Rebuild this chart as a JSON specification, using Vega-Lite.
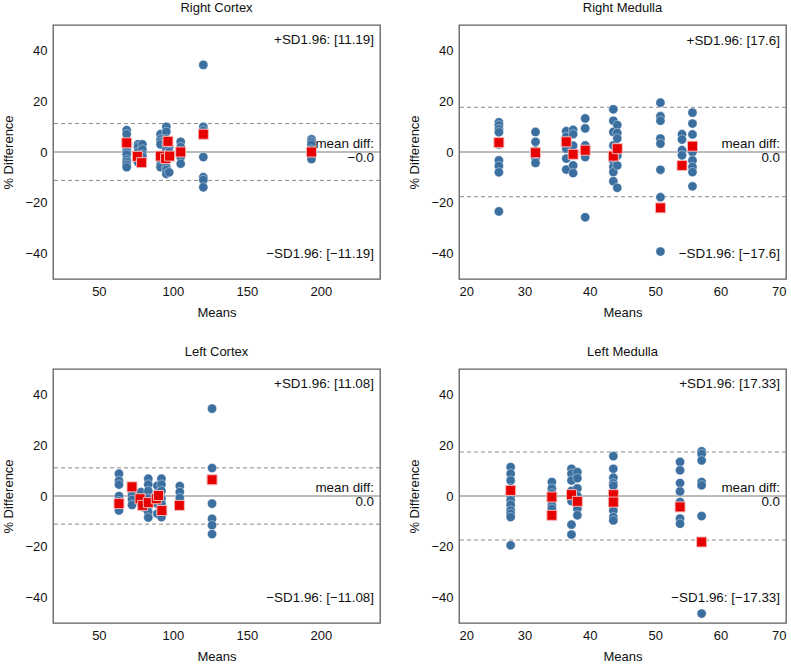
{
  "$schema": "https://vega.github.io/schema/vega-lite/v6.json",
  "padding": {"left": 2, "top": 1, "right": 5, "bottom": 5},
  "background": "white",
  "datasets": {
    "one": [{"k": 1}],
    "rc": [
      {"means": 68.8, "diff": 8.6, "kind": "blue"}, {"means": 68.8, "diff": 7, "kind": "blue"}, {"means": 68.8, "diff": 3, "kind": "blue"}, {"means": 68.8, "diff": 1, "kind": "blue"}, {"means": 68.8, "diff": 0, "kind": "blue"}, {"means": 68.8, "diff": -1, "kind": "blue"}, {"means": 68.8, "diff": -3, "kind": "blue"}, {"means": 68.8, "diff": -4, "kind": "blue"}, {"means": 68.8, "diff": -5, "kind": "blue"}, {"means": 68.8, "diff": -6, "kind": "blue"},
      {"means": 76.5, "diff": 3, "kind": "blue"}, {"means": 76.5, "diff": 2, "kind": "blue"}, {"means": 76.5, "diff": 0, "kind": "blue"}, {"means": 76.5, "diff": -2, "kind": "blue"}, {"means": 76.5, "diff": -3, "kind": "blue"}, {"means": 76.5, "diff": -4, "kind": "blue"},
      {"means": 79.4, "diff": 3, "kind": "blue"}, {"means": 79.4, "diff": 1, "kind": "blue"}, {"means": 79.4, "diff": -1, "kind": "blue"}, {"means": 79.4, "diff": -2, "kind": "blue"},
      {"means": 91.7, "diff": 7, "kind": "blue"}, {"means": 91.7, "diff": 5, "kind": "blue"}, {"means": 91.7, "diff": 4, "kind": "blue"}, {"means": 91.7, "diff": 3, "kind": "blue"}, {"means": 91.7, "diff": -3, "kind": "blue"}, {"means": 91.7, "diff": -5, "kind": "blue"}, {"means": 91.7, "diff": -6, "kind": "blue"},
      {"means": 95.6, "diff": 9.9, "kind": "blue"}, {"means": 95.6, "diff": 8, "kind": "blue"}, {"means": 95.6, "diff": 5, "kind": "blue"}, {"means": 95.6, "diff": 3, "kind": "blue"}, {"means": 95.6, "diff": 1, "kind": "blue"}, {"means": 95.6, "diff": -1, "kind": "blue"}, {"means": 95.6, "diff": -3, "kind": "blue"}, {"means": 95.6, "diff": -6, "kind": "blue"}, {"means": 95.6, "diff": -7, "kind": "blue"}, {"means": 95.6, "diff": -8.6, "kind": "blue"},
      {"means": 97.5, "diff": 2, "kind": "blue"}, {"means": 97.5, "diff": 0, "kind": "blue"}, {"means": 97.5, "diff": -2, "kind": "blue"}, {"means": 97.5, "diff": -8, "kind": "blue"},
      {"means": 105.3, "diff": 4, "kind": "blue"}, {"means": 105.3, "diff": 2, "kind": "blue"}, {"means": 105.3, "diff": 0, "kind": "blue"}, {"means": 105.3, "diff": -2, "kind": "blue"}, {"means": 105.3, "diff": -4.6, "kind": "blue"},
      {"means": 120.6, "diff": 34.3, "kind": "blue"}, {"means": 120.6, "diff": 9.9, "kind": "blue"}, {"means": 120.6, "diff": 8.5, "kind": "blue"}, {"means": 120.6, "diff": -2, "kind": "blue"}, {"means": 120.6, "diff": -9.9, "kind": "blue"}, {"means": 120.6, "diff": -11, "kind": "blue"}, {"means": 120.6, "diff": -13.9, "kind": "blue"},
      {"means": 193.7, "diff": 5, "kind": "blue"}, {"means": 193.7, "diff": 4, "kind": "blue"}, {"means": 193.7, "diff": 3, "kind": "blue"}, {"means": 193.7, "diff": 1, "kind": "blue"}, {"means": 193.7, "diff": -1, "kind": "blue"}, {"means": 193.7, "diff": -2.8, "kind": "blue"},
      {"means": 68.8, "diff": 3.6, "kind": "red"}, {"means": 76, "diff": -1.7, "kind": "red"}, {"means": 78.9, "diff": -4.2, "kind": "red"}, {"means": 91.7, "diff": -1.6, "kind": "red"}, {"means": 95.1, "diff": -2.6, "kind": "red"}, {"means": 96.7, "diff": 4.2, "kind": "red"}, {"means": 97.8, "diff": -1.6, "kind": "red"}, {"means": 105.3, "diff": 0, "kind": "red"}, {"means": 120.6, "diff": 7, "kind": "red"}, {"means": 193.7, "diff": 0, "kind": "red"}
    ],
    "rm": [
      {"means": 26.1, "diff": 11.7, "kind": "blue"}, {"means": 26.1, "diff": 10.5, "kind": "blue"}, {"means": 26.1, "diff": 9, "kind": "blue"}, {"means": 26.1, "diff": 7.8, "kind": "blue"}, {"means": 26.1, "diff": 3, "kind": "blue"}, {"means": 26.1, "diff": -3.3, "kind": "blue"}, {"means": 26.1, "diff": -5.5, "kind": "blue"}, {"means": 26.1, "diff": -8, "kind": "blue"}, {"means": 26.1, "diff": -23.4, "kind": "blue"},
      {"means": 31.7, "diff": 7.9, "kind": "blue"}, {"means": 31.7, "diff": 4, "kind": "blue"}, {"means": 31.7, "diff": 0.5, "kind": "blue"}, {"means": 31.7, "diff": -2.5, "kind": "blue"}, {"means": 31.7, "diff": -4.3, "kind": "blue"},
      {"means": 36.4, "diff": 8.2, "kind": "blue"}, {"means": 36.4, "diff": 6, "kind": "blue"}, {"means": 36.4, "diff": 1.3, "kind": "blue"}, {"means": 36.4, "diff": -2.6, "kind": "blue"}, {"means": 36.4, "diff": -6.9, "kind": "blue"},
      {"means": 37.45, "diff": 8.7, "kind": "blue"}, {"means": 37.45, "diff": 7, "kind": "blue"}, {"means": 37.45, "diff": 2.5, "kind": "blue"}, {"means": 37.45, "diff": -1, "kind": "blue"}, {"means": 37.45, "diff": -5.3, "kind": "blue"}, {"means": 37.45, "diff": -8.3, "kind": "blue"},
      {"means": 39.3, "diff": 13.2, "kind": "blue"}, {"means": 39.3, "diff": 9.3, "kind": "blue"}, {"means": 39.3, "diff": 2.6, "kind": "blue"}, {"means": 39.3, "diff": -2, "kind": "blue"}, {"means": 39.3, "diff": -25.7, "kind": "blue"},
      {"means": 43.6, "diff": 16.8, "kind": "blue"}, {"means": 43.6, "diff": 12.3, "kind": "blue"}, {"means": 43.6, "diff": 7.9, "kind": "blue"}, {"means": 43.6, "diff": 2.6, "kind": "blue"}, {"means": 43.6, "diff": -3.5, "kind": "blue"}, {"means": 43.6, "diff": -5.9, "kind": "blue"}, {"means": 43.6, "diff": -7.9, "kind": "blue"}, {"means": 43.6, "diff": -11.5, "kind": "blue"},
      {"means": 44.2, "diff": 10.6, "kind": "blue"}, {"means": 44.2, "diff": 7.5, "kind": "blue"}, {"means": 44.2, "diff": 5.3, "kind": "blue"}, {"means": 44.2, "diff": -1.5, "kind": "blue"}, {"means": 44.2, "diff": -5.3, "kind": "blue"}, {"means": 44.2, "diff": -14.1, "kind": "blue"},
      {"means": 50.8, "diff": 19.4, "kind": "blue"}, {"means": 50.8, "diff": 14.1, "kind": "blue"}, {"means": 50.8, "diff": 12.3, "kind": "blue"}, {"means": 50.8, "diff": 5.3, "kind": "blue"}, {"means": 50.8, "diff": 3.3, "kind": "blue"}, {"means": 50.8, "diff": -7, "kind": "blue"}, {"means": 50.8, "diff": -17.8, "kind": "blue"}, {"means": 50.8, "diff": -39.2, "kind": "blue"},
      {"means": 54.1, "diff": 7, "kind": "blue"}, {"means": 54.1, "diff": 4.9, "kind": "blue"}, {"means": 54.1, "diff": 0.7, "kind": "blue"}, {"means": 54.1, "diff": -1.3, "kind": "blue"},
      {"means": 55.7, "diff": 15.5, "kind": "blue"}, {"means": 55.7, "diff": 11.2, "kind": "blue"}, {"means": 55.7, "diff": 6.9, "kind": "blue"}, {"means": 55.7, "diff": 0, "kind": "blue"}, {"means": 55.7, "diff": -3.3, "kind": "blue"}, {"means": 55.7, "diff": -5.9, "kind": "blue"}, {"means": 55.7, "diff": -7.9, "kind": "blue"}, {"means": 55.7, "diff": -13.5, "kind": "blue"},
      {"means": 26.1, "diff": 3.7, "kind": "red"}, {"means": 31.7, "diff": -0.3, "kind": "red"}, {"means": 36.4, "diff": 4, "kind": "red"}, {"means": 37.45, "diff": -0.9, "kind": "red"}, {"means": 39.3, "diff": 0.7, "kind": "red"}, {"means": 43.6, "diff": -1.6, "kind": "red"}, {"means": 44.2, "diff": 1.3, "kind": "red"}, {"means": 50.8, "diff": -22, "kind": "red"}, {"means": 54.1, "diff": -5.3, "kind": "red"}, {"means": 55.7, "diff": 2.3, "kind": "red"}
    ],
    "lc": [
      {"means": 63.6, "diff": 8.8, "kind": "blue"}, {"means": 63.6, "diff": 6, "kind": "blue"}, {"means": 63.6, "diff": 4.5, "kind": "blue"}, {"means": 63.6, "diff": 0, "kind": "blue"}, {"means": 63.6, "diff": -2, "kind": "blue"}, {"means": 63.6, "diff": -5.7, "kind": "blue"},
      {"means": 72.4, "diff": 1.6, "kind": "blue"}, {"means": 72.4, "diff": 0, "kind": "blue"}, {"means": 72.4, "diff": -1.5, "kind": "blue"}, {"means": 72.4, "diff": -3.5, "kind": "blue"},
      {"means": 78.5, "diff": 1.5, "kind": "blue"}, {"means": 78.5, "diff": -1, "kind": "blue"}, {"means": 78.5, "diff": -3, "kind": "blue"}, {"means": 80.5, "diff": -4.5, "kind": "blue"},
      {"means": 83.4, "diff": 6.8, "kind": "blue"}, {"means": 83.4, "diff": 4.5, "kind": "blue"}, {"means": 83.4, "diff": 2, "kind": "blue"}, {"means": 83.4, "diff": -1, "kind": "blue"}, {"means": 83.4, "diff": -4, "kind": "blue"}, {"means": 83.4, "diff": -6.3, "kind": "blue"}, {"means": 83.4, "diff": -8.5, "kind": "blue"},
      {"means": 89.5, "diff": 4, "kind": "blue"}, {"means": 89.5, "diff": 1, "kind": "blue"}, {"means": 89.5, "diff": -3, "kind": "blue"}, {"means": 89.5, "diff": -7, "kind": "blue"},
      {"means": 92.3, "diff": 6.8, "kind": "blue"}, {"means": 92.3, "diff": 4.5, "kind": "blue"}, {"means": 92.3, "diff": 2, "kind": "blue"}, {"means": 92.3, "diff": -1, "kind": "blue"}, {"means": 92.3, "diff": -3, "kind": "blue"}, {"means": 92.3, "diff": -6.3, "kind": "blue"}, {"means": 92.3, "diff": -8.3, "kind": "blue"},
      {"means": 104.7, "diff": 3.9, "kind": "blue"}, {"means": 104.7, "diff": 1.6, "kind": "blue"}, {"means": 104.7, "diff": -0.8, "kind": "blue"},
      {"means": 126.5, "diff": 34.4, "kind": "blue"}, {"means": 126.5, "diff": 11, "kind": "blue"}, {"means": 126.5, "diff": -3, "kind": "blue"}, {"means": 126.5, "diff": -9, "kind": "blue"}, {"means": 126.5, "diff": -11.5, "kind": "blue"}, {"means": 126.5, "diff": -15, "kind": "blue"},
      {"means": 63.6, "diff": -3, "kind": "red"}, {"means": 72.4, "diff": 3.6, "kind": "red"}, {"means": 77.8, "diff": -1.1, "kind": "red"}, {"means": 79.6, "diff": -3.7, "kind": "red"}, {"means": 83.4, "diff": -2.6, "kind": "red"}, {"means": 88.8, "diff": -1.1, "kind": "red"}, {"means": 90.3, "diff": 0.2, "kind": "red"}, {"means": 92.6, "diff": -5.7, "kind": "red"}, {"means": 104.4, "diff": -3.7, "kind": "red"}, {"means": 126.5, "diff": 6.4, "kind": "red"}
    ],
    "lm": [
      {"means": 27.9, "diff": 11.4, "kind": "blue"}, {"means": 27.9, "diff": 8.8, "kind": "blue"}, {"means": 27.9, "diff": 6.1, "kind": "blue"}, {"means": 27.9, "diff": 3, "kind": "blue"}, {"means": 27.9, "diff": 0, "kind": "blue"}, {"means": 27.9, "diff": -1.7, "kind": "blue"}, {"means": 27.9, "diff": -3.5, "kind": "blue"}, {"means": 27.9, "diff": -5.7, "kind": "blue"}, {"means": 27.9, "diff": -7, "kind": "blue"}, {"means": 27.9, "diff": -8.3, "kind": "blue"}, {"means": 27.9, "diff": -19.4, "kind": "blue"},
      {"means": 34.2, "diff": 5.5, "kind": "blue"}, {"means": 34.2, "diff": 2.9, "kind": "blue"}, {"means": 34.2, "diff": 1, "kind": "blue"}, {"means": 34.2, "diff": -2, "kind": "blue"}, {"means": 34.2, "diff": -3.7, "kind": "blue"}, {"means": 34.2, "diff": -5, "kind": "blue"},
      {"means": 37.2, "diff": 10.7, "kind": "blue"}, {"means": 37.2, "diff": 8.8, "kind": "blue"}, {"means": 37.2, "diff": 6.1, "kind": "blue"}, {"means": 37.2, "diff": 2, "kind": "blue"}, {"means": 37.2, "diff": -2, "kind": "blue"}, {"means": 37.2, "diff": -11.3, "kind": "blue"}, {"means": 37.2, "diff": -15.2, "kind": "blue"},
      {"means": 38.1, "diff": 9.4, "kind": "blue"}, {"means": 38.1, "diff": 7, "kind": "blue"}, {"means": 38.1, "diff": 3, "kind": "blue"}, {"means": 38.1, "diff": 0, "kind": "blue"}, {"means": 38.1, "diff": -5, "kind": "blue"}, {"means": 38.1, "diff": -7.6, "kind": "blue"},
      {"means": 43.6, "diff": 15.7, "kind": "blue"}, {"means": 43.6, "diff": 10.7, "kind": "blue"}, {"means": 43.6, "diff": 7.2, "kind": "blue"}, {"means": 43.6, "diff": 5, "kind": "blue"}, {"means": 43.6, "diff": 4, "kind": "blue"}, {"means": 43.6, "diff": -5.7, "kind": "blue"}, {"means": 43.6, "diff": -8.3, "kind": "blue"}, {"means": 43.6, "diff": -9.6, "kind": "blue"},
      {"means": 53.8, "diff": 13.4, "kind": "blue"}, {"means": 53.8, "diff": 10.1, "kind": "blue"}, {"means": 53.8, "diff": 5.1, "kind": "blue"}, {"means": 53.8, "diff": 1.8, "kind": "blue"}, {"means": 53.8, "diff": -2.4, "kind": "blue"}, {"means": 53.8, "diff": -8.9, "kind": "blue"}, {"means": 53.8, "diff": -10.9, "kind": "blue"},
      {"means": 57.1, "diff": 17.6, "kind": "blue"}, {"means": 57.1, "diff": 16.5, "kind": "blue"}, {"means": 57.1, "diff": 14, "kind": "blue"}, {"means": 57.1, "diff": 5.5, "kind": "blue"}, {"means": 57.1, "diff": 4.2, "kind": "blue"}, {"means": 57.1, "diff": -7.9, "kind": "blue"}, {"means": 57.1, "diff": -46.3, "kind": "blue"},
      {"means": 27.9, "diff": 2.2, "kind": "red"}, {"means": 34.2, "diff": -0.4, "kind": "red"}, {"means": 34.2, "diff": -7.6, "kind": "red"}, {"means": 37.2, "diff": 0.5, "kind": "red"}, {"means": 38.1, "diff": -2.1, "kind": "red"}, {"means": 43.6, "diff": 0.5, "kind": "red"}, {"means": 43.6, "diff": -2.4, "kind": "red"}, {"means": 53.8, "diff": -4.3, "kind": "red"}, {"means": 57.1, "diff": -18.1, "kind": "red"}
    ]
  },
  "vconcat": [
    {
      "hconcat": [
        {
          "title": "Right Cortex",
          "width": 327, "height": 254,
          "encoding": {
            "x": {"type": "quantitative", "scale": {"domain": [19, 240], "nice": false, "zero": false}, "axis": {"values": [50, 100, 150, 200], "title": "Means"}},
            "y": {"type": "quantitative", "scale": {"domain": [-50, 50], "nice": false}, "axis": {"values": [-40, -20, 0, 20, 40], "title": "% Difference"}}
          },
          "layer": [
            {"data": {"name": "one"}, "mark": {"type": "rule", "color": "#7a7a7a", "strokeWidth": 1.1}, "encoding": {"y": {"datum": 0, "type": "quantitative"}}},
            {"data": {"name": "one"}, "mark": {"type": "rule", "color": "#8a8a8a", "strokeWidth": 1, "strokeDash": [4, 3]}, "encoding": {"y": {"datum": 11.19, "type": "quantitative"}}},
            {"data": {"name": "one"}, "mark": {"type": "rule", "color": "#8a8a8a", "strokeWidth": 1, "strokeDash": [4, 3]}, "encoding": {"y": {"datum": -11.19, "type": "quantitative"}}},
            {"data": {"name": "rc"}, "transform": [{"filter": "datum.kind == 'blue'"}], "mark": {"type": "circle", "size": 85, "color": "#3b6fa0", "opacity": 1, "stroke": "#ffffff", "strokeWidth": 0.4}, "encoding": {"x": {"field": "means", "type": "quantitative"}, "y": {"field": "diff", "type": "quantitative"}}},
            {"data": {"name": "rc"}, "transform": [{"filter": "datum.kind == 'red'"}], "mark": {"type": "square", "size": 100, "color": "#e60000", "opacity": 1, "stroke": "#f4b8b8", "strokeWidth": 1}, "encoding": {"x": {"field": "means", "type": "quantitative"}, "y": {"field": "diff", "type": "quantitative"}}},
            {"data": {"name": "one"}, "mark": {"type": "text", "text": "+SD1.96: [11.19]", "align": "right", "baseline": "middle", "dx": -6, "fontSize": 13.4, "fill": "#111111"}, "encoding": {"x": {"datum": 240, "type": "quantitative"}, "y": {"datum": 44, "type": "quantitative"}}},
            {"data": {"name": "one"}, "mark": {"type": "text", "text": "−SD1.96: [−11.19]", "align": "right", "baseline": "middle", "dx": -6, "fontSize": 13.4, "fill": "#111111"}, "encoding": {"x": {"datum": 240, "type": "quantitative"}, "y": {"datum": -40.2, "type": "quantitative"}}},
            {"data": {"name": "one"}, "mark": {"type": "text", "text": "mean diff:", "align": "right", "baseline": "middle", "dx": -6, "dy": -8, "fontSize": 13.4, "fill": "#111111"}, "encoding": {"x": {"datum": 240, "type": "quantitative"}, "y": {"datum": 0, "type": "quantitative"}}},
            {"data": {"name": "one"}, "mark": {"type": "text", "text": "−0.0", "align": "right", "baseline": "middle", "dx": -6, "dy": 6, "fontSize": 13.4, "fill": "#111111"}, "encoding": {"x": {"datum": 240, "type": "quantitative"}, "y": {"datum": 0, "type": "quantitative"}}}
          ]
        },
        {
          "title": "Right Medulla",
          "width": 327, "height": 254,
          "encoding": {
            "x": {"type": "quantitative", "scale": {"domain": [20, 70], "nice": false, "zero": false}, "axis": {"values": [20, 30, 40, 50, 60, 70], "title": "Means"}},
            "y": {"type": "quantitative", "scale": {"domain": [-50, 50], "nice": false}, "axis": {"values": [-40, -20, 0, 20, 40], "title": "% Difference"}}
          },
          "layer": [
            {"data": {"name": "one"}, "mark": {"type": "rule", "color": "#7a7a7a", "strokeWidth": 1.1}, "encoding": {"y": {"datum": 0, "type": "quantitative"}}},
            {"data": {"name": "one"}, "mark": {"type": "rule", "color": "#8a8a8a", "strokeWidth": 1, "strokeDash": [4, 3]}, "encoding": {"y": {"datum": 17.6, "type": "quantitative"}}},
            {"data": {"name": "one"}, "mark": {"type": "rule", "color": "#8a8a8a", "strokeWidth": 1, "strokeDash": [4, 3]}, "encoding": {"y": {"datum": -17.6, "type": "quantitative"}}},
            {"data": {"name": "rm"}, "transform": [{"filter": "datum.kind == 'blue'"}], "mark": {"type": "circle", "size": 85, "color": "#3b6fa0", "opacity": 1, "stroke": "#ffffff", "strokeWidth": 0.4}, "encoding": {"x": {"field": "means", "type": "quantitative"}, "y": {"field": "diff", "type": "quantitative"}}},
            {"data": {"name": "rm"}, "transform": [{"filter": "datum.kind == 'red'"}], "mark": {"type": "square", "size": 100, "color": "#e60000", "opacity": 1, "stroke": "#f4b8b8", "strokeWidth": 1}, "encoding": {"x": {"field": "means", "type": "quantitative"}, "y": {"field": "diff", "type": "quantitative"}}},
            {"data": {"name": "one"}, "mark": {"type": "text", "text": "+SD1.96: [17.6]", "align": "right", "baseline": "middle", "dx": -6, "fontSize": 13.4, "fill": "#111111"}, "encoding": {"x": {"datum": 70, "type": "quantitative"}, "y": {"datum": 43.6, "type": "quantitative"}}},
            {"data": {"name": "one"}, "mark": {"type": "text", "text": "−SD1.96: [−17.6]", "align": "right", "baseline": "middle", "dx": -6, "fontSize": 13.4, "fill": "#111111"}, "encoding": {"x": {"datum": 70, "type": "quantitative"}, "y": {"datum": -40.2, "type": "quantitative"}}},
            {"data": {"name": "one"}, "mark": {"type": "text", "text": "mean diff:", "align": "right", "baseline": "middle", "dx": -6, "dy": -8, "fontSize": 13.4, "fill": "#111111"}, "encoding": {"x": {"datum": 70, "type": "quantitative"}, "y": {"datum": 0, "type": "quantitative"}}},
            {"data": {"name": "one"}, "mark": {"type": "text", "text": "0.0", "align": "right", "baseline": "middle", "dx": -6, "dy": 6, "fontSize": 13.4, "fill": "#111111"}, "encoding": {"x": {"datum": 70, "type": "quantitative"}, "y": {"datum": 0, "type": "quantitative"}}}
          ]
        }
      ]
    },
    {
      "hconcat": [
        {
          "title": "Left Cortex",
          "width": 327, "height": 254,
          "encoding": {
            "x": {"type": "quantitative", "scale": {"domain": [19, 240], "nice": false, "zero": false}, "axis": {"values": [50, 100, 150, 200], "title": "Means"}},
            "y": {"type": "quantitative", "scale": {"domain": [-50, 50], "nice": false}, "axis": {"values": [-40, -20, 0, 20, 40], "title": "% Difference"}}
          },
          "layer": [
            {"data": {"name": "one"}, "mark": {"type": "rule", "color": "#7a7a7a", "strokeWidth": 1.1}, "encoding": {"y": {"datum": 0, "type": "quantitative"}}},
            {"data": {"name": "one"}, "mark": {"type": "rule", "color": "#8a8a8a", "strokeWidth": 1, "strokeDash": [4, 3]}, "encoding": {"y": {"datum": 11.08, "type": "quantitative"}}},
            {"data": {"name": "one"}, "mark": {"type": "rule", "color": "#8a8a8a", "strokeWidth": 1, "strokeDash": [4, 3]}, "encoding": {"y": {"datum": -11.08, "type": "quantitative"}}},
            {"data": {"name": "lc"}, "transform": [{"filter": "datum.kind == 'blue'"}], "mark": {"type": "circle", "size": 85, "color": "#3b6fa0", "opacity": 1, "stroke": "#ffffff", "strokeWidth": 0.4}, "encoding": {"x": {"field": "means", "type": "quantitative"}, "y": {"field": "diff", "type": "quantitative"}}},
            {"data": {"name": "lc"}, "transform": [{"filter": "datum.kind == 'red'"}], "mark": {"type": "square", "size": 100, "color": "#e60000", "opacity": 1, "stroke": "#f4b8b8", "strokeWidth": 1}, "encoding": {"x": {"field": "means", "type": "quantitative"}, "y": {"field": "diff", "type": "quantitative"}}},
            {"data": {"name": "one"}, "mark": {"type": "text", "text": "+SD1.96: [11.08]", "align": "right", "baseline": "middle", "dx": -6, "fontSize": 13.4, "fill": "#111111"}, "encoding": {"x": {"datum": 240, "type": "quantitative"}, "y": {"datum": 44.2, "type": "quantitative"}}},
            {"data": {"name": "one"}, "mark": {"type": "text", "text": "−SD1.96: [−11.08]", "align": "right", "baseline": "middle", "dx": -6, "fontSize": 13.4, "fill": "#111111"}, "encoding": {"x": {"datum": 240, "type": "quantitative"}, "y": {"datum": -40.2, "type": "quantitative"}}},
            {"data": {"name": "one"}, "mark": {"type": "text", "text": "mean diff:", "align": "right", "baseline": "middle", "dx": -6, "dy": -8, "fontSize": 13.4, "fill": "#111111"}, "encoding": {"x": {"datum": 240, "type": "quantitative"}, "y": {"datum": 0, "type": "quantitative"}}},
            {"data": {"name": "one"}, "mark": {"type": "text", "text": "0.0", "align": "right", "baseline": "middle", "dx": -6, "dy": 6, "fontSize": 13.4, "fill": "#111111"}, "encoding": {"x": {"datum": 240, "type": "quantitative"}, "y": {"datum": 0, "type": "quantitative"}}}
          ]
        },
        {
          "title": "Left Medulla",
          "width": 327, "height": 254,
          "encoding": {
            "x": {"type": "quantitative", "scale": {"domain": [20, 70], "nice": false, "zero": false}, "axis": {"values": [20, 30, 40, 50, 60, 70], "title": "Means"}},
            "y": {"type": "quantitative", "scale": {"domain": [-50, 50], "nice": false}, "axis": {"values": [-40, -20, 0, 20, 40], "title": "% Difference"}}
          },
          "layer": [
            {"data": {"name": "one"}, "mark": {"type": "rule", "color": "#7a7a7a", "strokeWidth": 1.1}, "encoding": {"y": {"datum": 0, "type": "quantitative"}}},
            {"data": {"name": "one"}, "mark": {"type": "rule", "color": "#8a8a8a", "strokeWidth": 1, "strokeDash": [4, 3]}, "encoding": {"y": {"datum": 17.33, "type": "quantitative"}}},
            {"data": {"name": "one"}, "mark": {"type": "rule", "color": "#8a8a8a", "strokeWidth": 1, "strokeDash": [4, 3]}, "encoding": {"y": {"datum": -17.33, "type": "quantitative"}}},
            {"data": {"name": "lm"}, "transform": [{"filter": "datum.kind == 'blue'"}], "mark": {"type": "circle", "size": 85, "color": "#3b6fa0", "opacity": 1, "stroke": "#ffffff", "strokeWidth": 0.4}, "encoding": {"x": {"field": "means", "type": "quantitative"}, "y": {"field": "diff", "type": "quantitative"}}},
            {"data": {"name": "lm"}, "transform": [{"filter": "datum.kind == 'red'"}], "mark": {"type": "square", "size": 100, "color": "#e60000", "opacity": 1, "stroke": "#f4b8b8", "strokeWidth": 1}, "encoding": {"x": {"field": "means", "type": "quantitative"}, "y": {"field": "diff", "type": "quantitative"}}},
            {"data": {"name": "one"}, "mark": {"type": "text", "text": "+SD1.96: [17.33]", "align": "right", "baseline": "middle", "dx": -6, "fontSize": 13.4, "fill": "#111111"}, "encoding": {"x": {"datum": 70, "type": "quantitative"}, "y": {"datum": 44.2, "type": "quantitative"}}},
            {"data": {"name": "one"}, "mark": {"type": "text", "text": "−SD1.96: [−17.33]", "align": "right", "baseline": "middle", "dx": -6, "fontSize": 13.4, "fill": "#111111"}, "encoding": {"x": {"datum": 70, "type": "quantitative"}, "y": {"datum": -40.2, "type": "quantitative"}}},
            {"data": {"name": "one"}, "mark": {"type": "text", "text": "mean diff:", "align": "right", "baseline": "middle", "dx": -6, "dy": -8, "fontSize": 13.4, "fill": "#111111"}, "encoding": {"x": {"datum": 70, "type": "quantitative"}, "y": {"datum": 0, "type": "quantitative"}}},
            {"data": {"name": "one"}, "mark": {"type": "text", "text": "0.0", "align": "right", "baseline": "middle", "dx": -6, "dy": 6, "fontSize": 13.4, "fill": "#111111"}, "encoding": {"x": {"datum": 70, "type": "quantitative"}, "y": {"datum": 0, "type": "quantitative"}}}
          ]
        }
      ],
      "spacing": 26
    }
  ],
  "spacing": 25,
  "config": {
    "font": "Liberation Sans",
    "view": {"stroke": "#5e5e5e", "strokeWidth": 1.3},
    "axis": {"grid": false, "ticks": false, "domain": false, "labelFontSize": 13, "titleFontSize": 13, "titleFontWeight": "normal", "labelColor": "#111111", "titleColor": "#111111", "labelPadding": 6, "titlePadding": 9},
    "axisX": {"titlePadding": 8},
    "title": {"fontSize": 13, "fontWeight": "normal", "offset": 10, "color": "#111111"},
    "concat": {"spacing": 26}
  }
}
